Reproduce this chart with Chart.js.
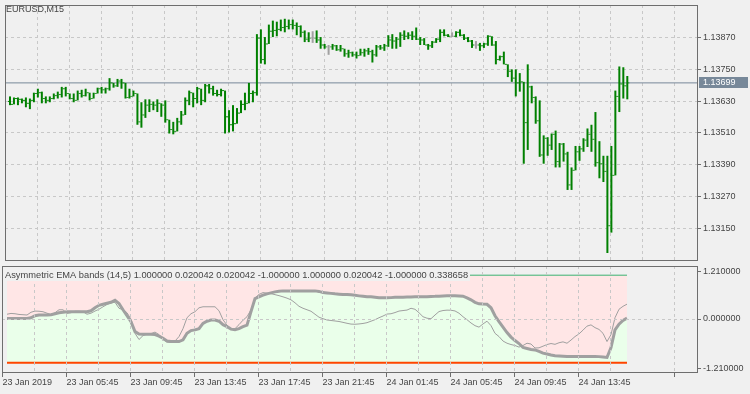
<!DOCTYPE html>
<html>
<head>
<meta charset="utf-8">
<script src="https://cdn.jsdelivr.net/npm/chart.js@4.4.1/dist/chart.umd.min.js"></script>
<style>
  html, body { margin: 0; padding: 0; background: #f0f0f0; }
  #wrap { position: relative; width: 750px; height: 394px; overflow: hidden; }
  canvas { position: absolute; left: 0; }
  #priceCanvas { top: 0; width: 750px; height: 265px; }
  #bandCanvas { top: 265px; width: 750px; height: 129px; }
</style>
</head>
<body>
<div id="wrap">
  <canvas id="priceCanvas" width="750" height="265"></canvas>
  <canvas id="bandCanvas" width="750" height="129"></canvas>
</div>
<script>
// Titles
const symbolTitle = "EURUSD,M15";
const indicatorTitle = "Asymmetric EMA bands (14,5) 1.000000 0.020042 0.020042 -1.000000 1.000000 0.020042 -1.000000 0.338658";

// Time axis labels (one every 16 bars)
const timeLabels = [
  "23 Jan 2019", "23 Jan 05:45", "23 Jan 09:45", "23 Jan 13:45", "23 Jan 17:45",
  "23 Jan 21:45", "24 Jan 01:45", "24 Jan 05:45", "24 Jan 09:45", "24 Jan 13:45",
];

// Price axis
const priceTicks = [1.13150, 1.13270, 1.13390, 1.13510, 1.13630, 1.13750, 1.13870];
const lastPrice = 1.13699;

// Indicator axis (edge labels are clamped inside the panel like MT4 does)
const bandTickLabels = ["1.210000", "0.000000", "-1.210000"];
const bandLabelAt = [1.095, 0, -1.127];
const upperLevel = 1.0;
const lowerLevel = -1.0;

// EURUSD M15 bars
const opens = [
  1.13629, 1.13618, 1.13640, 1.13637, 1.13633, 1.13622, 1.13633, 1.13659, 1.13662, 1.13640,
  1.13633, 1.13640, 1.13651, 1.13655, 1.13677, 1.13659, 1.13640, 1.13633, 1.13659, 1.13651,
  1.13662, 1.13640, 1.13659, 1.13677, 1.13673, 1.13677, 1.13699, 1.13688, 1.13706, 1.13699,
  1.13644, 1.13648, 1.13659, 1.13552, 1.13578, 1.13615, 1.13618, 1.13615, 1.13622, 1.13615,
  1.13560, 1.13523, 1.13516, 1.13552, 1.13578, 1.13633, 1.13662, 1.13640, 1.13677, 1.13633,
  1.13688, 1.13677, 1.13659, 1.13655, 1.13670, 1.13571, 1.13541, 1.13545, 1.13585, 1.13618,
  1.13622, 1.13659, 1.13662, 1.13868, 1.13787, 1.13846, 1.13894, 1.13897, 1.13901, 1.13908,
  1.13912, 1.13919, 1.13916, 1.13912, 1.13890, 1.13864, 1.13868, 1.13868, 1.13861, 1.13842,
  1.13835, 1.13835, 1.13839, 1.13824, 1.13828, 1.13809, 1.13813, 1.13805, 1.13802, 1.13813,
  1.13820, 1.13817, 1.13805, 1.13835, 1.13831, 1.13839, 1.13861, 1.13857, 1.13864, 1.13879,
  1.13875, 1.13879, 1.13875, 1.13864, 1.13861, 1.13842, 1.13839, 1.13853, 1.13864, 1.13890,
  1.13879, 1.13875, 1.13875, 1.13890, 1.13879, 1.13868, 1.13857, 1.13842, 1.13842, 1.13839,
  1.13846, 1.13875, 1.13842, 1.13787, 1.13798, 1.13769, 1.13743, 1.13717, 1.13699, 1.13703,
  1.13549, 1.13684, 1.13644, 1.13556, 1.13427, 1.13490, 1.13464, 1.13505, 1.13402, 1.13468,
  1.13431, 1.13314, 1.13369, 1.13439, 1.13450, 1.13483, 1.13505, 1.13486, 1.13398, 1.13394,
  1.13365, 1.13160, 1.13350, 1.13648, 1.13695, 1.13688,
];
const highs = [
  1.13648, 1.13644, 1.13644, 1.13640, 1.13644, 1.13640, 1.13662, 1.13677, 1.13666, 1.13648,
  1.13648, 1.13659, 1.13666, 1.13684, 1.13684, 1.13659, 1.13659, 1.13670, 1.13673, 1.13677,
  1.13662, 1.13662, 1.13681, 1.13684, 1.13681, 1.13717, 1.13699, 1.13714, 1.13714, 1.13699,
  1.13677, 1.13670, 1.13659, 1.13626, 1.13637, 1.13637, 1.13629, 1.13637, 1.13622, 1.13633,
  1.13560, 1.13552, 1.13567, 1.13593, 1.13644, 1.13670, 1.13662, 1.13684, 1.13677, 1.13695,
  1.13695, 1.13688, 1.13673, 1.13677, 1.13670, 1.13596, 1.13615, 1.13604, 1.13633, 1.13662,
  1.13699, 1.13670, 1.13883, 1.13901, 1.13872, 1.13919, 1.13934, 1.13930, 1.13938, 1.13941,
  1.13938, 1.13938, 1.13927, 1.13916, 1.13897, 1.13890, 1.13894, 1.13897, 1.13872, 1.13846,
  1.13842, 1.13846, 1.13842, 1.13842, 1.13828, 1.13824, 1.13817, 1.13817, 1.13828, 1.13828,
  1.13831, 1.13824, 1.13842, 1.13842, 1.13846, 1.13879, 1.13883, 1.13872, 1.13890, 1.13897,
  1.13890, 1.13894, 1.13908, 1.13872, 1.13868, 1.13846, 1.13857, 1.13868, 1.13901, 1.13901,
  1.13883, 1.13890, 1.13894, 1.13901, 1.13883, 1.13872, 1.13861, 1.13857, 1.13850, 1.13850,
  1.13879, 1.13875, 1.13857, 1.13802, 1.13817, 1.13769, 1.13750, 1.13750, 1.13736, 1.13703,
  1.13769, 1.13688, 1.13648, 1.13633, 1.13501, 1.13494, 1.13508, 1.13519, 1.13472, 1.13472,
  1.13439, 1.13380, 1.13461, 1.13461, 1.13490, 1.13527, 1.13541, 1.13589, 1.13479, 1.13424,
  1.13424, 1.13461, 1.13670, 1.13761, 1.13758, 1.13725,
];
const lows = [
  1.13615, 1.13618, 1.13615, 1.13622, 1.13607, 1.13600, 1.13626, 1.13644, 1.13622, 1.13622,
  1.13626, 1.13637, 1.13640, 1.13644, 1.13648, 1.13637, 1.13626, 1.13633, 1.13644, 1.13648,
  1.13633, 1.13640, 1.13659, 1.13659, 1.13659, 1.13670, 1.13681, 1.13684, 1.13677, 1.13640,
  1.13640, 1.13648, 1.13541, 1.13530, 1.13567, 1.13589, 1.13596, 1.13589, 1.13571, 1.13549,
  1.13508, 1.13505, 1.13516, 1.13541, 1.13578, 1.13615, 1.13607, 1.13622, 1.13615, 1.13626,
  1.13659, 1.13651, 1.13648, 1.13648, 1.13508, 1.13512, 1.13516, 1.13545, 1.13585, 1.13596,
  1.13622, 1.13626, 1.13651, 1.13772, 1.13769, 1.13846, 1.13872, 1.13875, 1.13894, 1.13890,
  1.13901, 1.13901, 1.13879, 1.13872, 1.13853, 1.13853, 1.13850, 1.13850, 1.13828, 1.13828,
  1.13805, 1.13824, 1.13820, 1.13817, 1.13798, 1.13794, 1.13798, 1.13791, 1.13802, 1.13798,
  1.13805, 1.13776, 1.13798, 1.13824, 1.13820, 1.13835, 1.13828, 1.13828, 1.13835, 1.13861,
  1.13864, 1.13861, 1.13861, 1.13842, 1.13842, 1.13824, 1.13831, 1.13850, 1.13853, 1.13875,
  1.13872, 1.13872, 1.13872, 1.13875, 1.13861, 1.13853, 1.13831, 1.13828, 1.13820, 1.13831,
  1.13839, 1.13839, 1.13769, 1.13783, 1.13769, 1.13721, 1.13703, 1.13648, 1.13666, 1.13394,
  1.13446, 1.13622, 1.13545, 1.13420, 1.13394, 1.13424, 1.13446, 1.13380, 1.13380, 1.13402,
  1.13295, 1.13295, 1.13369, 1.13405, 1.13439, 1.13457, 1.13439, 1.13383, 1.13339, 1.13325,
  1.13057, 1.13134, 1.13350, 1.13589, 1.13640, 1.13637,
];
const closes = [
  1.13618, 1.13640, 1.13637, 1.13633, 1.13622, 1.13633, 1.13659, 1.13662, 1.13640, 1.13633,
  1.13640, 1.13651, 1.13655, 1.13677, 1.13659, 1.13640, 1.13633, 1.13659, 1.13651, 1.13662,
  1.13640, 1.13659, 1.13677, 1.13673, 1.13677, 1.13699, 1.13688, 1.13706, 1.13699, 1.13644,
  1.13648, 1.13659, 1.13552, 1.13578, 1.13615, 1.13618, 1.13615, 1.13622, 1.13615, 1.13560,
  1.13523, 1.13516, 1.13552, 1.13578, 1.13633, 1.13662, 1.13640, 1.13677, 1.13633, 1.13688,
  1.13677, 1.13659, 1.13655, 1.13670, 1.13571, 1.13541, 1.13545, 1.13585, 1.13618, 1.13622,
  1.13659, 1.13662, 1.13868, 1.13787, 1.13846, 1.13894, 1.13897, 1.13901, 1.13908, 1.13912,
  1.13919, 1.13916, 1.13912, 1.13890, 1.13864, 1.13868, 1.13868, 1.13861, 1.13842, 1.13835,
  1.13835, 1.13839, 1.13824, 1.13828, 1.13809, 1.13813, 1.13805, 1.13802, 1.13813, 1.13820,
  1.13817, 1.13805, 1.13835, 1.13831, 1.13839, 1.13861, 1.13857, 1.13864, 1.13879, 1.13875,
  1.13879, 1.13875, 1.13864, 1.13861, 1.13842, 1.13839, 1.13853, 1.13864, 1.13890, 1.13879,
  1.13875, 1.13875, 1.13890, 1.13879, 1.13868, 1.13857, 1.13842, 1.13842, 1.13839, 1.13846,
  1.13875, 1.13842, 1.13787, 1.13798, 1.13769, 1.13743, 1.13717, 1.13699, 1.13703, 1.13549,
  1.13684, 1.13644, 1.13556, 1.13427, 1.13490, 1.13464, 1.13505, 1.13402, 1.13468, 1.13431,
  1.13314, 1.13369, 1.13439, 1.13450, 1.13483, 1.13505, 1.13486, 1.13398, 1.13394, 1.13365,
  1.13160, 1.13350, 1.13648, 1.13695, 1.13688, 1.13699,
];

// Asymmetric EMA bands: slow (thick) and fast (thin) lines
const bandSlow = [
  0.014, 0.014, 0.014, 0.014, 0.014, 0.014, 0.029, 0.075, 0.091, 0.091,
  0.091, 0.098, 0.120, 0.143, 0.154, 0.166, 0.166, 0.166, 0.166, 0.166,
  0.166, 0.188, 0.256, 0.313, 0.336, 0.358, 0.381, 0.426, 0.354, 0.211,
  0.075, -0.061, -0.288, -0.345, -0.349, -0.349, -0.349, -0.356, -0.390, -0.440,
  -0.503, -0.515, -0.515, -0.515, -0.476, -0.327, -0.265, -0.249, -0.220, -0.100,
  -0.050, -0.023, -0.023, -0.050, -0.129, -0.175, -0.231, -0.243, -0.220, -0.175,
  -0.141, 0.170, 0.467, 0.506, 0.544, 0.574, 0.596, 0.619, 0.635, 0.642,
  0.642, 0.642, 0.642, 0.642, 0.642, 0.642, 0.642, 0.642, 0.630, 0.603,
  0.596, 0.585, 0.574, 0.567, 0.562, 0.558, 0.551, 0.540, 0.528, 0.517,
  0.506, 0.506, 0.494, 0.483, 0.483, 0.483, 0.488, 0.494, 0.494, 0.499,
  0.501, 0.503, 0.506, 0.506, 0.506, 0.510, 0.515, 0.517, 0.522, 0.524,
  0.528, 0.528, 0.528, 0.524, 0.522, 0.483, 0.438, 0.381, 0.347, 0.340,
  0.336, 0.256, 0.075, -0.061, -0.186, -0.311, -0.413, -0.492, -0.560, -0.651,
  -0.673, -0.696, -0.707, -0.741, -0.780, -0.798, -0.821, -0.837, -0.844, -0.850,
  -0.855, -0.855, -0.855, -0.855, -0.855, -0.855, -0.855, -0.855, -0.859, -0.868,
  -0.878, -0.650, -0.249, -0.118, -0.034, 0.020042,
];
const bandFast = [
  0.109, 0.127, 0.120, 0.104, 0.098, 0.091, 0.154, 0.181, 0.177, 0.166,
  0.132, 0.104, 0.143, 0.211, 0.211, 0.127, 0.143, 0.177, 0.177, 0.166,
  0.109, 0.132, 0.181, 0.222, 0.279, 0.331, 0.370, 0.381, 0.245, 0.211,
  0.143, -0.005, -0.327, -0.469, -0.379, -0.345, -0.333, -0.299, -0.356, -0.469,
  -0.526, -0.537, -0.503, -0.401, -0.220, 0.029, 0.120, 0.166, 0.256, 0.279,
  0.279, 0.279, 0.279, 0.188, -0.016, -0.141, -0.231, -0.220, -0.129, -0.027,
  0.052, 0.210, 0.480, 0.562, 0.603, 0.590, 0.578, 0.556, 0.533, 0.506,
  0.476, 0.438, 0.370, 0.290, 0.245, 0.211, 0.177, 0.109, 0.041, 0.007,
  -0.023, -0.034, -0.045, -0.057, -0.077, -0.098, -0.116, -0.120, -0.113, -0.102,
  -0.084, -0.050, -0.016, 0.029, 0.068, 0.113, 0.120, 0.147, 0.181, 0.193,
  0.204, 0.245, 0.222, 0.143, 0.052, 0.018, 0.007, 0.091, 0.170, 0.193,
  0.202, 0.200, 0.184, 0.132, 0.052, -0.016, -0.091, -0.152, -0.186, -0.113,
  -0.050, -0.152, -0.327, -0.401, -0.503, -0.553, -0.583, -0.605, -0.642, -0.605,
  -0.553, -0.571, -0.662, -0.658, -0.621, -0.583, -0.560, -0.578, -0.542, -0.522,
  -0.553, -0.481, -0.401, -0.340, -0.254, -0.163, -0.134, -0.197, -0.238, -0.327,
  -0.515, -0.356, 0.029, 0.222, 0.290, 0.338658,
];

// Style
const BG = "#f0f0f0";
const FRAME = "#6e6e6e";
const GRID = "#c8c8c8";
const TEXT = "#454545";
const UP = "#008000";
const DOJI = "#a0a0a0";
const FONT = '"Liberation Sans", Arial, sans-serif';

Chart.defaults.font.family = FONT;
Chart.defaults.font.size = 9;
Chart.defaults.color = TEXT;

// x range: 4px per bar, bar 0 centred 5px inside the frame
const X_MIN = -1.25;
const X_MAX = 172.5;
const gridTicks = [];
for (let j = 0; j < 22; j++) gridTicks.push(-1.125 + 8 * j);

const barColors = opens.map((o, i) => (o === closes[i] ? DOJI : UP));
const asPoints = (arr, shift) => arr.map((v, i) => ({ x: i + (shift || 0), y: v }));

function frameDraw(chart) {
  const { ctx, chartArea: a } = chart;
  ctx.save();
  ctx.strokeStyle = FRAME;
  ctx.lineWidth = 1;
  ctx.strokeRect(a.left + 0.5, a.top + 0.5, a.right - a.left, a.bottom - a.top);
  ctx.restore();
}

function fixWidth(w) {
  return (scale) => {
    scale.width = w;
    scale.paddingTop = 0;
    scale.paddingBottom = 0;
  };
}
function fixHeight(h) {
  return (scale) => {
    scale.height = h;
    scale.paddingLeft = 0;
    scale.paddingRight = 0;
  };
}

// Price panel
const pricePanel = {
  id: "pricePanel",
  afterDraw(chart) {
    const ctx = chart.ctx;
    const y = chart.scales.y.getPixelForValue(lastPrice);
    ctx.save();
    ctx.fillStyle = "#778899";
    ctx.fillRect(699, Math.round(y) - 6, 49, 11);
    ctx.fillStyle = "#ffffff";
    ctx.font = "9px " + FONT;
    ctx.textBaseline = "middle";
    ctx.fillText(lastPrice.toFixed(5), 703, Math.round(y) - 0.5);
    ctx.fillStyle = TEXT;
    ctx.fillText(symbolTitle, 6, 10);
    ctx.restore();
    frameDraw(chart);
  },
};

new Chart(document.getElementById("priceCanvas"), {
  type: "bar",
  data: {
    datasets: [
      {
        type: "bar",
        data: lows.map((l, i) => ({ x: i, y: [l, highs[i]] })),
        backgroundColor: barColors,
        barThickness: 2,
        borderWidth: 0,
        inflateAmount: 0,
      },
      {
        type: "line",
        showLine: false,
        data: asPoints(opens, -0.375),
        pointStyle: "line",
        pointRadius: 0.5,
        pointBorderWidth: 1,
        pointBorderColor: barColors,
        pointBackgroundColor: barColors,
      },
      {
        type: "line",
        showLine: false,
        data: asPoints(closes, 0.375),
        pointStyle: "line",
        pointRadius: 0.5,
        pointBorderWidth: 1,
        pointBorderColor: barColors,
        pointBackgroundColor: barColors,
      },
      {
        type: "line",
        data: [
          { x: X_MIN, y: lastPrice },
          { x: X_MAX, y: lastPrice },
        ],
        borderColor: "#778899",
        borderWidth: 1,
        pointRadius: 0,
      },
    ],
  },
  options: {
    responsive: false,
    animation: false,
    devicePixelRatio: 1,
    events: [],
    layout: { padding: { left: 2, top: 2, right: 0, bottom: 1 } },
    plugins: { legend: { display: false }, tooltip: { enabled: false } },
    scales: {
      x: {
        type: "linear",
        min: X_MIN,
        max: X_MAX,
        offset: false,
        afterBuildTicks: (s) => { s.ticks = gridTicks.map((v) => ({ value: v })); },
        afterFit: fixHeight(0),
        ticks: { display: false },
        grid: { color: GRID, offset: false, drawTicks: false },
        border: { display: false, dash: [3, 3] },
      },
      y: {
        type: "linear",
        position: "right",
        min: 1.130306,
        max: 1.13993,
        beginAtZero: false,
        afterBuildTicks: (s) => { s.ticks = priceTicks.map((v) => ({ value: v })); },
        afterFit: fixWidth(53),
        ticks: { padding: 2, callback: (v) => v.toFixed(5) },
        grid: { color: GRID, tickColor: FRAME, tickLength: 4 },
        border: { display: false, dash: [3, 3] },
      },
    },
  },
  plugins: [pricePanel],
});

// Indicator panel
const bandPanel = {
  id: "bandPanel",
  afterDraw(chart) {
    const ctx = chart.ctx;
    ctx.save();
    ctx.fillStyle = BG;
    ctx.fillRect(5, 2, 465, 14);
    ctx.fillStyle = TEXT;
    ctx.font = "9.3px " + FONT;
    ctx.textBaseline = "middle";
    ctx.fillText(indicatorTitle, 5, 10.5);
    ctx.restore();
    frameDraw(chart);
  },
};

new Chart(document.getElementById("bandCanvas"), {
  type: "line",
  data: {
    datasets: [
      {
        data: asPoints(bandSlow),
        borderColor: "#a0a0a0",
        borderWidth: 3,
        pointRadius: 0,
        fill: false,
      },
      {
        data: asPoints(bandSlow.map(() => upperLevel)),
        borderColor: "#3cb371",
        borderWidth: 1,
        pointRadius: 0,
        fill: { target: 0, above: "#ffe6e6", below: "#ffe6e6" },
      },
      {
        data: asPoints(bandSlow.map(() => lowerLevel)),
        borderColor: "#ff4500",
        borderWidth: 2,
        pointRadius: 0,
        fill: { target: 0, above: "#eaffea", below: "#eaffea" },
      },
      {
        data: asPoints(bandFast),
        borderColor: "#a0a0a0",
        borderWidth: 1,
        pointRadius: 0,
        fill: false,
      },
    ],
  },
  options: {
    responsive: false,
    animation: false,
    devicePixelRatio: 1,
    events: [],
    layout: { padding: { left: 2, top: 1, right: 0, bottom: 0 } },
    plugins: {
      legend: { display: false },
      tooltip: { enabled: false },
      filler: { drawTime: "beforeDatasetsDraw" },
    },
    scales: {
      x: {
        type: "linear",
        min: X_MIN,
        max: X_MAX,
        offset: false,
        afterBuildTicks: (s) => { s.ticks = gridTicks.map((v) => ({ value: v })); },
        afterFit: fixHeight(22),
        ticks: {
          align: "start",
          padding: 0,
          autoSkip: false,
          maxRotation: 0,
          callback: (v, i) => (i % 2 === 0 ? timeLabels[i / 2] : ""),
        },
        grid: {
          z: 1,
          color: GRID,
          offset: false,
          tickLength: 5,
          tickColor: (c) => (c.index % 2 === 0 ? FRAME : "rgba(0,0,0,0)"),
        },
        border: { display: false, dash: [3, 3] },
      },
      y: {
        type: "linear",
        position: "right",
        min: -1.21,
        max: 1.21,
        afterBuildTicks: (s) => { s.ticks = bandLabelAt.map((v) => ({ value: v })); },
        afterFit: fixWidth(53),
        ticks: { padding: 2, callback: (v, i) => bandTickLabels[i] },
        grid: {
          z: 1,
          color: (c) => (c.tick && c.tick.value === 0 ? GRID : "rgba(0,0,0,0)"),
          tickColor: FRAME,
          tickLength: 4,
        },
        border: { display: false, dash: [3, 3] },
      },
    },
  },
  plugins: [bandPanel],
});
</script>
</body>
</html>
